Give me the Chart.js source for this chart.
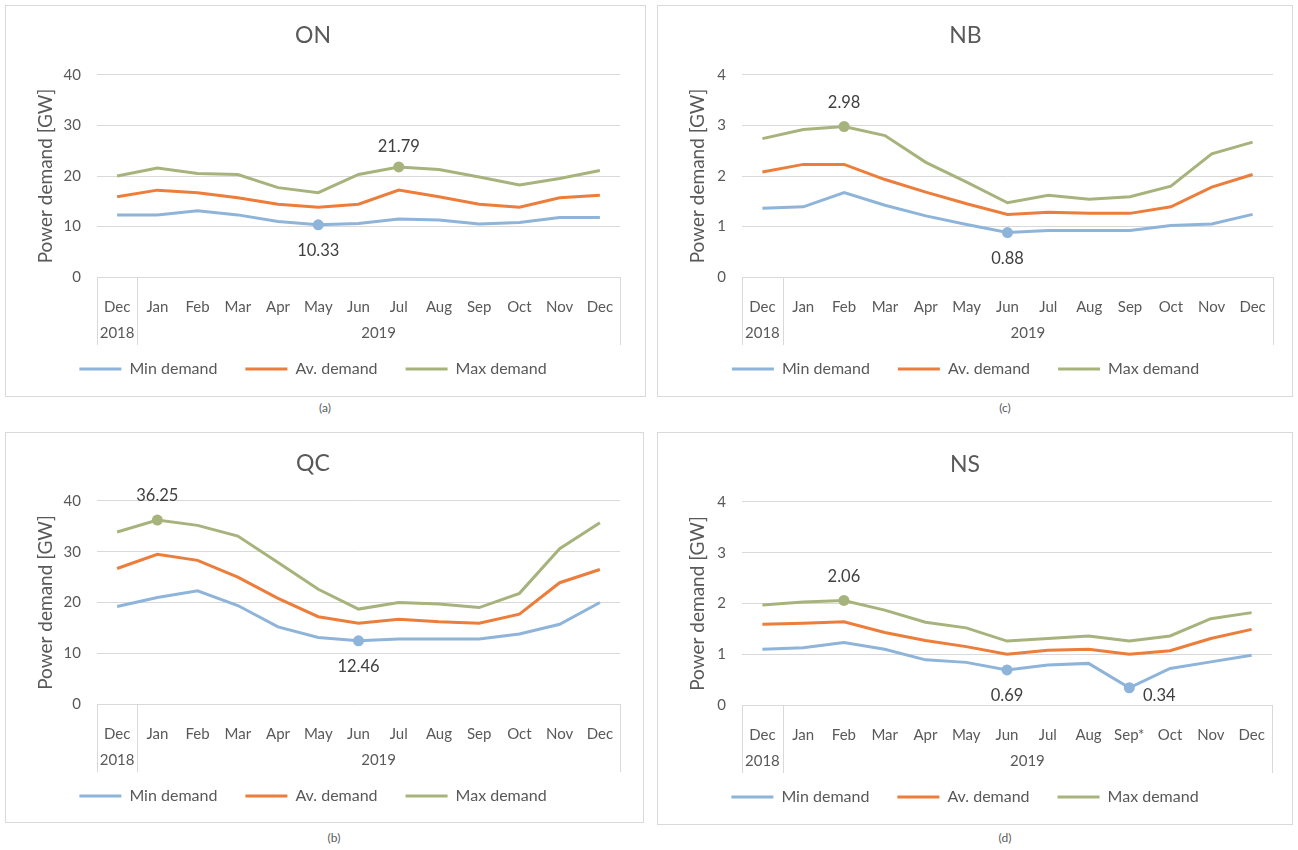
<!DOCTYPE html>
<html>
<head>
<meta charset="utf-8">
<script src="https://cdn.jsdelivr.net/npm/chart.js@4.4.1/dist/chart.umd.min.js"></script>
<style>
  body { margin: 0; width: 1298px; height: 850px; background: #fff; position: relative; font-family: Lato, sans-serif; }
  .panel { position: absolute; border: 1px solid #d9d9d9; background: #fff; }
  .panel canvas { display: block; }
  .cap { position: absolute; font-size: 12px; color: #595959; transform: translateX(-50%); }
</style>
</head>
<body>
<div class="panel" style="left:5px;top:5px;width:639px;height:390px"><canvas id="gON" width="639" height="390"></canvas></div>
<div class="panel" style="left:657px;top:5px;width:634px;height:390px"><canvas id="gNB" width="634" height="390"></canvas></div>
<div class="panel" style="left:5px;top:432px;width:637px;height:389px"><canvas id="gQC" width="637" height="389"></canvas></div>
<div class="panel" style="left:657px;top:432px;width:634px;height:391px"><canvas id="gNS" width="634" height="391"></canvas></div>
<div class="cap" style="left:325px;top:400px">(a)</div>
<div class="cap" style="left:1005px;top:400px">(c)</div>
<div class="cap" style="left:334px;top:830px">(b)</div>
<div class="cap" style="left:1005px;top:830px">(d)</div>

<script>
// categorias
const meses = ['Dec', 'Jan', 'Feb', 'Mar', 'Apr', 'May', 'Jun', 'Jul', 'Aug', 'Sep', 'Oct', 'Nov', 'Dec'];
const mesesNS = ['Dec', 'Jan', 'Feb', 'Mar', 'Apr', 'May', 'Jun', 'Jul', 'Aug', 'Sep*', 'Oct', 'Nov', 'Dec'];
const anios = ['2018', '2019'];
const nombresSeries = ['Min demand', 'Av. demand', 'Max demand'];

// ON [GW]
const onMin = [12.3, 12.3, 13.1, 12.3, 11.0, 10.33, 10.6, 11.5, 11.3, 10.5, 10.8, 11.8, 11.8];
const onAv  = [15.9, 17.2, 16.7, 15.7, 14.4, 13.8, 14.4, 17.2, 15.9, 14.4, 13.8, 15.7, 16.2];
const onMax = [20.0, 21.6, 20.5, 20.3, 17.7, 16.7, 20.3, 21.79, 21.3, 19.8, 18.2, 19.5, 21.1];

// NB [GW]
const nbMin = [1.36, 1.39, 1.67, 1.42, 1.21, 1.04, 0.88, 0.92, 0.92, 0.92, 1.02, 1.05, 1.24];
const nbAv  = [2.08, 2.23, 2.23, 1.93, 1.68, 1.45, 1.24, 1.28, 1.26, 1.26, 1.39, 1.78, 2.03];
const nbMax = [2.74, 2.92, 2.98, 2.80, 2.27, 1.88, 1.47, 1.62, 1.54, 1.59, 1.80, 2.44, 2.67];

// QC [GW]
const qcMin = [19.2, 21.0, 22.3, 19.4, 15.2, 13.1, 12.46, 12.8, 12.8, 12.8, 13.8, 15.7, 20.0];
const qcAv  = [26.7, 29.5, 28.3, 25.0, 20.8, 17.2, 15.9, 16.7, 16.2, 15.9, 17.7, 23.9, 26.5];
const qcMax = [33.9, 36.25, 35.2, 33.1, 27.9, 22.6, 18.7, 20.0, 19.7, 19.0, 21.8, 30.6, 35.7];

// NS [GW]
const nsMin = [1.10, 1.13, 1.23, 1.10, 0.89, 0.84, 0.69, 0.79, 0.82, 0.34, 0.72, 0.85, 0.98];
const nsAv  = [1.59, 1.61, 1.64, 1.43, 1.27, 1.15, 1.00, 1.08, 1.10, 1.00, 1.07, 1.31, 1.49];
const nsMax = [1.97, 2.03, 2.06, 1.87, 1.63, 1.52, 1.26, 1.31, 1.36, 1.26, 1.36, 1.70, 1.82];

const colores = ['#8eb4da', '#ec7d3a', '#a7b37c'];
const gris = '#595959';
const PAD_LEYENDA = 28;
const FUENTE_LEYENDA = 16;

// eje de categorias en dos niveles + etiquetas de los puntos marcados
const ejeDoble = {
    id: 'ejeDoble',
    afterDraw(chart, args, opts) {
        const { ctx, chartArea } = chart;
        const x = chart.scales.x;
        const fondo = chartArea.bottom + 68;
        const corte = (x.getPixelForValue(0) + x.getPixelForValue(1)) / 2;
        ctx.save();
        ctx.strokeStyle = '#d9d9d9';
        ctx.lineWidth = 1;
        [chartArea.left, corte, chartArea.right].forEach(px => {
            const xx = Math.round(px) + 0.5;
            ctx.beginPath();
            ctx.moveTo(xx, chartArea.bottom);
            ctx.lineTo(xx, fondo);
            ctx.stroke();
        });
        ctx.fillStyle = gris;
        ctx.font = '15px Lato';
        ctx.textAlign = 'center';
        ctx.textBaseline = 'middle';
        ctx.fillText(anios[0], x.getPixelForValue(0), chartArea.bottom + 56);
        ctx.fillText(anios[1], (corte + chartArea.right) / 2, chartArea.bottom + 56);

        ctx.fillStyle = '#404040';
        ctx.font = '16.5px Lato';
        opts.marcas.forEach(m => {
            const p = chart.getDatasetMeta(m.serie).data[m.idx];
            const v = chart.data.datasets[m.serie].data[m.idx];
            let dx = 0, dy = m.pos === 'arriba' ? -24 : 26;
            if (m.pos === 'derecha') { dx = 30; dy = 8; }
            if (m.dy !== undefined) dy = m.dy;
            ctx.fillText(v.toFixed(2), p.x + dx, p.y + dy);
        });
        ctx.restore();
    }
};

function crearGrafico(id, titulo, etiquetas, series, yMax, paso, marcas, geo) {
    const lienzo = document.getElementById(id);
    const alto = lienzo.height;
    const altoX = Math.round(geo.leyenda - PAD_LEYENDA - FUENTE_LEYENDA / 2 - geo.abajo);
    const abajoPad = alto - geo.abajo - altoX - (FUENTE_LEYENDA + PAD_LEYENDA + 10);
    const tituloTop = geo.titulo - 13.8;

    return new Chart(lienzo, {
        type: 'line',
        data: {
            labels: etiquetas,
            datasets: series.map((d, i) => ({
                label: nombresSeries[i],
                data: d,
                borderColor: colores[i],
                backgroundColor: colores[i],
                borderWidth: 3,
                tension: 0,
                pointStyle: 'circle',
                pointRadius: c => marcas.some(m => m.serie === i && m.idx === c.dataIndex) ? 5.5 : 0,
                pointHoverRadius: 0,
                pointBorderWidth: 0,
                pointBackgroundColor: colores[i]
            }))
        },
        options: {
            responsive: false,
            animation: false,
            events: [],
            layout: { padding: { left: 0, right: geo.der, top: 0, bottom: abajoPad } },
            scales: {
                x: {
                    offset: true,
                    grid: { display: false },
                    border: { display: false },
                    ticks: { color: gris, font: { family: 'Lato', size: 15 }, padding: 13, maxRotation: 0, autoSkip: false },
                    afterFit: s => { s.height = altoX; }
                },
                y: {
                    min: 0,
                    max: yMax,
                    ticks: { stepSize: paso, color: gris, font: { family: 'Lato', size: 15 }, padding: 16 },
                    grid: { color: '#d9d9d9', drawTicks: false },
                    border: { display: false },
                    title: { display: true, text: 'Power demand [GW]', color: gris, font: { family: 'Lato', size: 19 }, padding: { top: 28, bottom: 0 } },
                    afterFit: s => { s.width = geo.izq; }
                }
            },
            plugins: {
                title: {
                    display: true,
                    text: titulo,
                    color: gris,
                    font: { family: 'Lato', size: 23, weight: 'normal' },
                    padding: { top: tituloTop, bottom: geo.arriba - tituloTop - 27.6 }
                },
                legend: {
                    position: 'bottom',
                    labels: {
                        usePointStyle: true,
                        pointStyle: 'line',
                        pointStyleWidth: 42,
                        padding: PAD_LEYENDA,
                        color: gris,
                        font: { family: 'Lato', size: FUENTE_LEYENDA },
                        generateLabels: chart => Chart.defaults.plugins.legend.labels.generateLabels(chart)
                            .map(l => ({ ...l, lineWidth: 3, strokeStyle: colores[l.datasetIndex], pointStyle: 'line' }))
                    }
                },
                tooltip: { enabled: false },
                ejeDoble: { marcas: marcas }
            }
        },
        plugins: [ejeDoble]
    });
}

crearGrafico('gON', 'ON', meses, [onMin, onAv, onMax], 40, 10,
    [{ serie: 0, idx: 5, pos: 'abajo' }, { serie: 2, idx: 7, pos: 'arriba', dy: -20 }],
    { izq: 91, der: 25, titulo: 30, arriba: 69, abajo: 271, leyenda: 363 });

crearGrafico('gNB', 'NB', meses, [nbMin, nbAv, nbMax], 4, 1,
    [{ serie: 0, idx: 6, pos: 'abajo' }, { serie: 2, idx: 2, pos: 'arriba' }],
    { izq: 84, der: 19, titulo: 30, arriba: 69, abajo: 271, leyenda: 363 });

crearGrafico('gQC', 'QC', meses, [qcMin, qcAv, qcMax], 40, 10,
    [{ serie: 0, idx: 6, pos: 'abajo' }, { serie: 2, idx: 1, pos: 'arriba' }],
    { izq: 91, der: 23, titulo: 31, arriba: 68, abajo: 271, leyenda: 363 });

crearGrafico('gNS', 'NS', mesesNS, [nsMin, nsAv, nsMax], 4, 1,
    [{ serie: 0, idx: 6, pos: 'abajo' }, { serie: 0, idx: 9, pos: 'derecha' }, { serie: 2, idx: 2, pos: 'arriba' }],
    { izq: 84, der: 20, titulo: 32, arriba: 69, abajo: 272, leyenda: 364 });
</script>
</body>
</html>
